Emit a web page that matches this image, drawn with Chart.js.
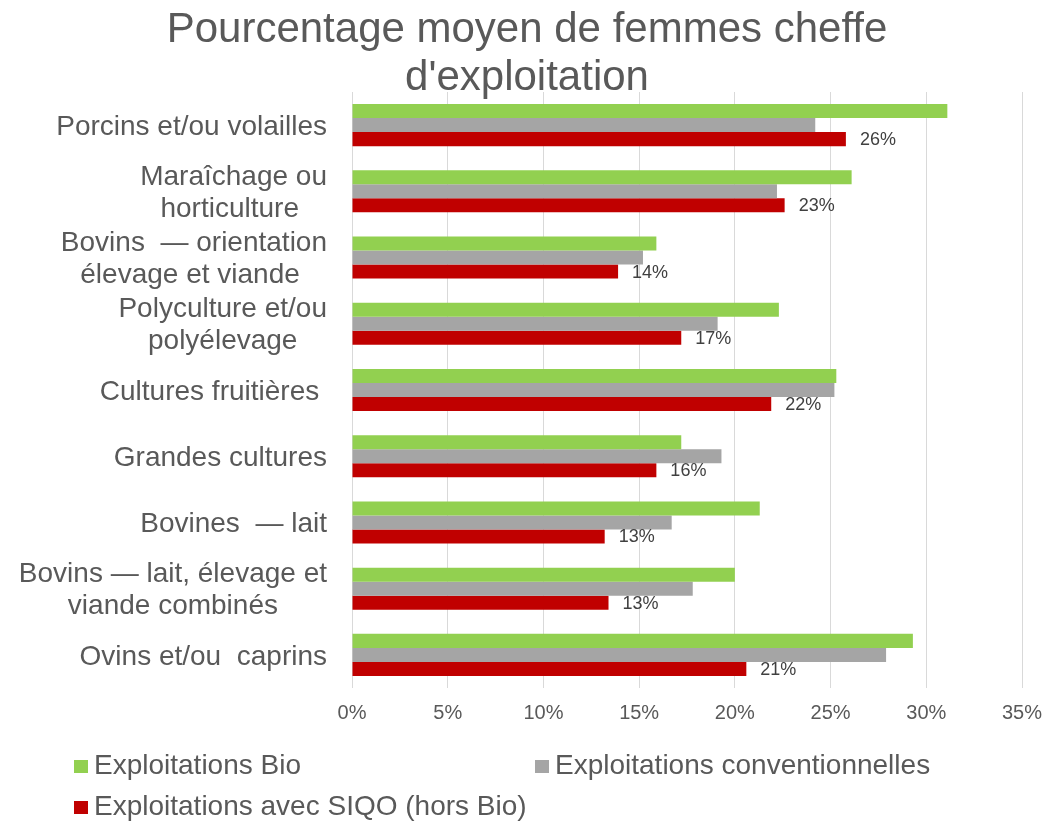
<!DOCTYPE html>
<html lang="fr">
<head>
<meta charset="utf-8">
<title>Pourcentage moyen de femmes cheffe d'exploitation</title>
<script src="https://cdn.jsdelivr.net/npm/chart.js@4"></script>
<style>
  html, body { margin: 0; padding: 0; background: #fff; }
  #wrap { width: 1064px; height: 824px; }
</style>
</head>
<body>
<div id="wrap"><canvas id="grafica" width="1064" height="824"></canvas></div>
<script>
  // donnees (en %)
  const categories = [
    ["Porcins et/ou volailles"],
    ["Maraîchage ou", "horticulture "],
    ["Bovins  — orientation", "élevage et viande "],
    ["Polyculture et/ou", "polyélevage"],
    ["Cultures fruitières "],
    ["Grandes cultures"],
    ["Bovines  — lait"],
    ["Bovins — lait, élevage et", "viande combinés"],
    ["Ovins et/ou  caprins"]
  ];
  const bio = [31.1, 26.1, 15.9, 22.3, 25.3, 17.2, 21.3, 20.0, 29.3];
  const conventionnelles = [24.2, 22.2, 15.2, 19.1, 25.2, 19.3, 16.7, 17.8, 27.9];
  const siqo = [25.8, 22.6, 13.9, 17.2, 21.9, 15.9, 13.2, 13.4, 20.6];
  const seriesNames = ["Exploitations Bio", "Exploitations conventionnelles", "Exploitations avec SIQO (hors Bio)"];
  const colores = ["#92D050", "#A5A5A5", "#C00000"];
  const tituloLineas = ["Pourcentage moyen de femmes cheffe", "d'exploitation"];

  const FONT = "'Liberation Sans', Arial, sans-serif";
  const GRIS = "#595959";

  // titre
  const tituloPlugin = {
    id: "titulo",
    afterDraw(chart) {
      const ctx = chart.ctx;
      ctx.save();
      ctx.fillStyle = GRIS;
      ctx.font = "42px " + FONT;
      ctx.textAlign = "center";
      ctx.textBaseline = "alphabetic";
      ctx.fillText(tituloLineas[0], 527, 42);
      ctx.fillText(tituloLineas[1], 527, 90);
      ctx.restore();
    }
  };

  // etiquettes des categories, centrees ligne par ligne
  const etiquetasPlugin = {
    id: "etiquetas",
    afterDraw(chart) {
      const ctx = chart.ctx;
      const y = chart.scales.y;
      ctx.save();
      ctx.fillStyle = GRIS;
      ctx.font = "28px " + FONT;
      ctx.textAlign = "center";
      ctx.textBaseline = "middle";
      categories.forEach((lineas, i) => {
        const anchoBloque = Math.max(...lineas.map(l => ctx.measureText(l).width));
        const cx = 327 - anchoBloque / 2;
        const cy = y.getPixelForValue(i) + 2;
        const alto = 32;
        lineas.forEach((l, k) => {
          ctx.fillText(l, cx, cy + (k - (lineas.length - 1) / 2) * alto);
        });
      });
      ctx.restore();
    }
  };

  // valeurs de la serie SIQO
  const valoresPlugin = {
    id: "valores",
    afterDatasetsDraw(chart) {
      const ctx = chart.ctx;
      const meta = chart.getDatasetMeta(2);
      ctx.save();
      ctx.fillStyle = "#404040";
      ctx.font = "18px " + FONT;
      ctx.textAlign = "left";
      ctx.textBaseline = "middle";
      meta.data.forEach((barra, i) => {
        ctx.fillText(Math.round(siqo[i]) + "%", barra.x + 14, barra.y + 1);
      });
      ctx.restore();
    }
  };

  // legende
  const leyendaPlugin = {
    id: "leyenda",
    afterDraw(chart) {
      const ctx = chart.ctx;
      const items = [
        { x: 74, y: 766 },
        { x: 535, y: 766 },
        { x: 74, y: 807 }
      ];
      ctx.save();
      ctx.font = "28px " + FONT;
      ctx.textAlign = "left";
      ctx.textBaseline = "middle";
      items.forEach((it, i) => {
        ctx.fillStyle = colores[i];
        ctx.fillRect(it.x, it.y - 6, 14, 13);
        ctx.fillStyle = GRIS;
        ctx.fillText(seriesNames[i], it.x + 20, it.y);
      });
      ctx.restore();
    }
  };

  const ctx = document.getElementById("grafica").getContext("2d");

  new Chart(ctx, {
    type: "bar",
    data: {
      labels: categories.map(c => c.join(" ")),
      datasets: [
        { label: seriesNames[0], data: bio, backgroundColor: colores[0] },
        { label: seriesNames[1], data: conventionnelles, backgroundColor: colores[1] },
        { label: seriesNames[2], data: siqo, backgroundColor: colores[2] }
      ]
    },
    options: {
      indexAxis: "y",
      responsive: false,
      animation: false,
      devicePixelRatio: 1,
      layout: { padding: { top: 92, right: 42, bottom: 96, left: 0 } },
      datasets: {
        bar: { categoryPercentage: 0.635, barPercentage: 1.0, borderWidth: 0 }
      },
      scales: {
        x: {
          min: 0,
          max: 35,
          border: { display: false },
          grid: { color: "#D9D9D9", lineWidth: 1, drawTicks: false },
          ticks: {
            stepSize: 5,
            padding: 13,
            color: GRIS,
            font: { family: FONT, size: 20 },
            callback: v => v + "%"
          },
          afterFit(scale) { scale.height = 40; }
        },
        y: {
          border: { display: false },
          grid: { display: false },
          ticks: { display: false },
          afterFit(scale) { scale.width = 352; }
        }
      },
      plugins: {
        legend: { display: false },
        title: { display: false },
        tooltip: { enabled: false }
      }
    },
    plugins: [tituloPlugin, etiquetasPlugin, valoresPlugin, leyendaPlugin]
  });
</script>
</body>
</html>
